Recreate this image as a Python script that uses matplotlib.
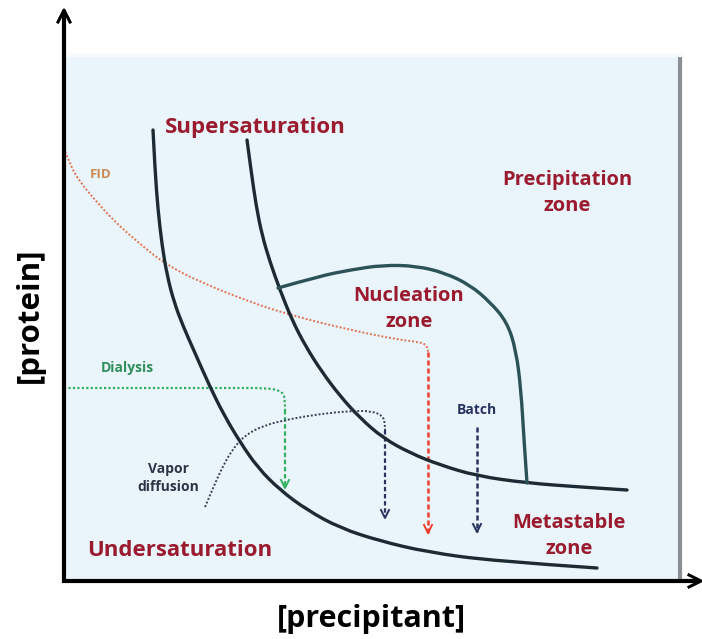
import matplotlib
matplotlib.use("Agg")
import matplotlib.pyplot as plt
from matplotlib.patches import Rectangle, PathPatch
from matplotlib.path import Path

# ---- schematic data (figure pixel-like coordinates, y downward) ----
solubility_x = [153, 155, 158, 162, 167, 174, 183, 195, 210, 224, 240, 258, 280, 307, 340, 380, 427, 493, 597]
solubility_y = [130, 170, 210, 245, 275, 302, 326, 353, 387, 415, 442, 468, 490, 510, 528, 541, 552, 561, 568]

supersol_x = [247, 251, 256, 262, 270, 280, 292, 306, 322, 340, 360, 383, 410, 440, 477, 527, 580, 627]
supersol_y = [140, 170, 205, 235, 262, 290, 320, 347, 372, 396, 418, 438, 453, 465, 476, 483, 487, 490]

nucleation_x = [278, 320, 350, 383, 417, 445, 470, 490, 507, 516, 521, 524, 527]
nucleation_y = [288, 276, 270, 265, 266, 273, 285, 302, 322, 350, 390, 440, 483]

fid_x = [64, 70, 80, 95, 115, 140, 165, 200, 250, 290, 350, 400, 420, 428, 428]
fid_y = [148, 165, 182, 200, 222, 244, 264, 282, 302, 315, 330, 340, 342, 346, 352]
fid_tip_y = 533

dialysis_x = [64, 150, 230, 270, 283, 285, 285]
dialysis_y = [388, 388, 388, 388, 392, 400, 410]
dialysis_tip_y = 488

vapor_x = [205, 213, 222, 232, 245, 265, 290, 320, 350, 372, 383, 385, 385]
vapor_y = [507, 488, 468, 450, 435, 425, 419, 414, 411, 411, 416, 424, 430]
vapor_tip_y = 518

batch_x = 477
batch_top_y = 427
batch_tip_y = 532

zone_labels = ["Supersaturation", "Undersaturation", "Precipitation\nzone", "Nucleation\nzone", "Metastable\nzone"]
zone_pos = [(255, 128), (180, 550), (567, 193), (409, 309), (569, 536)]
method_labels = ["FID", "Dialysis", "Vapor\ndiffusion", "Batch"]
method_pos = [(101, 175), (127, 368), (168, 478), (477, 410)]
method_colors = ["#C98A55", "#2F8F5A", "#2E3347", "#26335F"]

plt.rcParams['font.family'] = ['Open Sans', 'DejaVu Sans']

fig = plt.figure(figsize=(7.02, 6.39), dpi=100)
ax = fig.add_axes([0, 0, 1, 1])
ax.set_xlim(0, 702)
ax.set_ylim(639, 0)
ax.axis('off')


def smooth_curve(xs, ys, **kw):
    """Draw a smooth quadratic-Bezier path using the points as control points."""
    pts = list(zip(xs, ys))
    verts = [pts[0]]
    codes = [Path.MOVETO]
    if len(pts) == 2:
        verts.append(pts[1]); codes.append(Path.LINETO)
    else:
        for i in range(1, len(pts) - 1):
            if i < len(pts) - 2:
                end = ((pts[i][0] + pts[i + 1][0]) / 2, (pts[i][1] + pts[i + 1][1]) / 2)
            else:
                end = pts[i + 1]
            verts += [pts[i], end]
            codes += [Path.CURVE3, Path.CURVE3]
    patch = PathPatch(Path(verts, codes), facecolor='none', **kw)
    ax.add_patch(patch)
    return patch


# panel
ax.add_patch(Rectangle((64, 55), 616, 526, facecolor="#EAF5FB", edgecolor="none", zorder=0))
ax.plot([680, 680], [55, 581], color="#8A8F94", lw=3, solid_capstyle='butt', zorder=1)
ax.plot([64, 680], [55, 55], color="#F7FBFD", lw=3, zorder=1)

# axes arrows
ax.plot([64, 64], [583, 12], color="black", lw=3, solid_capstyle='butt', zorder=5)
ax.plot([58, 64, 70], [22, 10, 22], color="black", lw=2.2, zorder=5)
ax.plot([62, 699], [581, 581], color="black", lw=3, solid_capstyle='butt', zorder=5)
ax.plot([689, 701, 689], [575, 581, 587], color="black", lw=2.2, zorder=5)

# phase curves
curve_col = "#1C2A33"
smooth_curve(solubility_x, solubility_y, edgecolor=curve_col, lw=2.4, capstyle='round', zorder=3)
smooth_curve(supersol_x, supersol_y, edgecolor=curve_col, lw=2.4, capstyle='round', zorder=3)
smooth_curve(nucleation_x, nucleation_y, edgecolor="#2B5257", lw=2.4, capstyle='round', zorder=3)


def arrowhead(x, y, color):
    ax.plot([x - 4, x, x + 4], [y - 8, y, y - 8], color=color, lw=1.4, zorder=4)


# FID
smooth_curve(fid_x, fid_y, edgecolor="#E2734F", lw=1.4, linestyle=(0, (1, 1)), zorder=2)
ax.plot([fid_x[-1], fid_x[-1]], [fid_y[-1], fid_tip_y], color="#F03A2A", lw=1.8, ls=(0, (2, 1.2)), zorder=2)
arrowhead(fid_x[-1], fid_tip_y, "#F03A2A")

# Dialysis
smooth_curve(dialysis_x, dialysis_y, edgecolor="#33B060", lw=1.6, linestyle=(0, (1, 1)), zorder=2)
ax.plot([dialysis_x[-1], dialysis_x[-1]], [dialysis_y[-1], dialysis_tip_y], color="#33B060", lw=1.6, ls=(0, (2, 1.2)), zorder=2)
arrowhead(dialysis_x[-1], dialysis_tip_y, "#33B060")

# Vapor diffusion
smooth_curve(vapor_x, vapor_y, edgecolor="#3A3F55", lw=1.4, linestyle=(0, (1, 1)), zorder=2)
ax.plot([vapor_x[-1], vapor_x[-1]], [vapor_y[-1], vapor_tip_y], color="#2A3460", lw=1.6, ls=(0, (2, 1.2)), zorder=2)
arrowhead(vapor_x[-1], vapor_tip_y, "#2A3460")

# Batch
ax.plot([batch_x, batch_x], [batch_top_y, batch_tip_y], color="#26335F", lw=1.8, ls=(0, (2, 1.2)), zorder=2)
arrowhead(batch_x, batch_tip_y, "#26335F")

# labels
for lab, (x, y) in zip(zone_labels, zone_pos):
    size = 16 if "saturation" in lab else 14.5
    ax.text(x, y, lab, color="#9A1A2E", fontsize=size, fontweight='bold',
            ha='center', va='center', linespacing=1.45, zorder=6)
for lab, (x, y), c in zip(method_labels, method_pos, method_colors):
    size = 9.5 if lab == "FID" else 10
    ax.text(x, y, lab, color=c, fontsize=size, fontweight='bold',
            ha='center', va='center', linespacing=1.4, zorder=6)

ax.text(30, 315, "[protein]", rotation=90, fontsize=22.5, fontweight='bold',
        ha='center', va='center', color="black")
ax.text(371, 619, "[precipitant]", fontsize=22, fontweight='bold',
        ha='center', va='center', color="black")

fig.savefig("out.png", dpi=100)
